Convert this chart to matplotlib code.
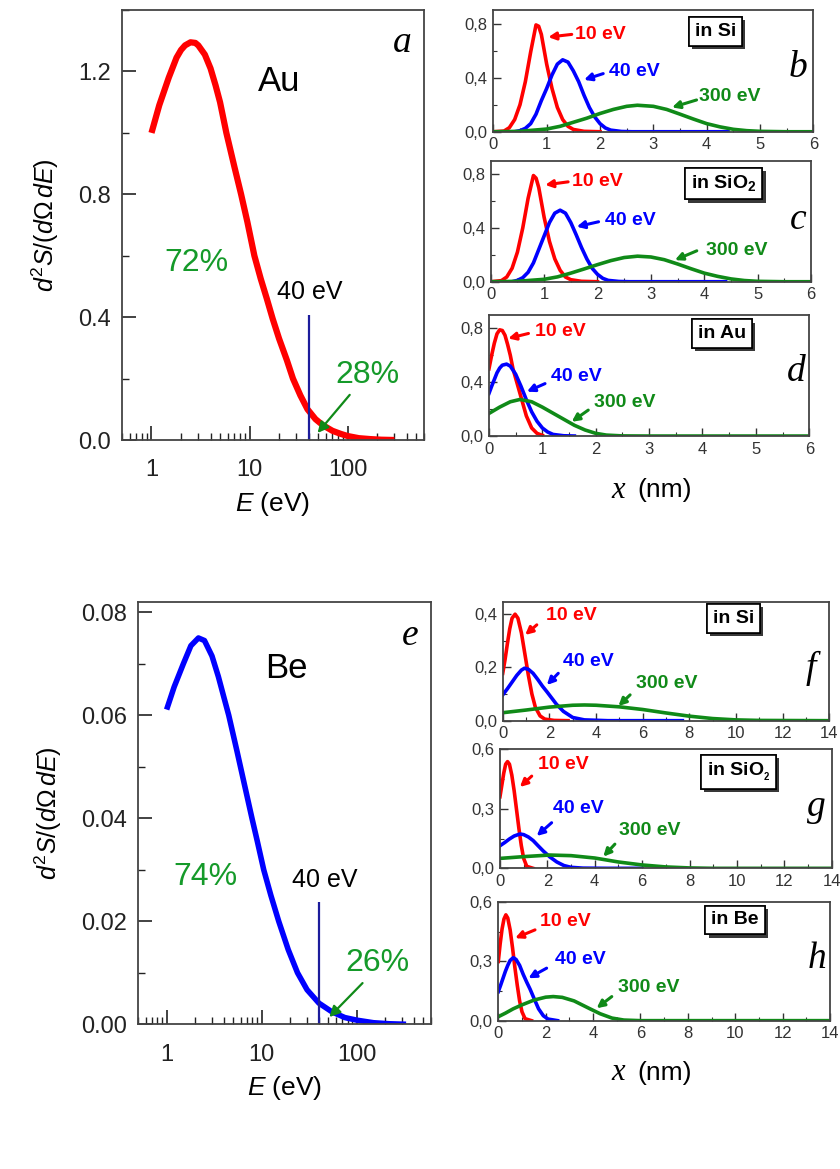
import matplotlib
matplotlib.use('Agg')
import matplotlib.pyplot as plt
import matplotlib.patheffects as pe
from matplotlib.ticker import MultipleLocator, FixedLocator, FuncFormatter, NullFormatter

plt.rcParams['font.family'] = ['Liberation Sans', 'DejaVu Sans']
plt.rcParams['mathtext.fontset'] = 'custom'
plt.rcParams['mathtext.rm'] = 'Liberation Sans'
plt.rcParams['mathtext.it'] = 'Liberation Sans:italic'
plt.rcParams['mathtext.bf'] = 'Liberation Sans:bold'

RED = '#ff0000'
BLUE = '#0000ff'
GREEN = '#108a18'
TXT_GREEN = '#159a2a'

# energy spectra of secondary electrons (left panels)
au_E = [1, 1.2, 1.5, 1.8, 2.0, 2.2, 2.5, 2.8, 3.0, 3.5, 4.0, 4.5, 5, 5.8, 7, 8.2, 9.5, 11.2,
        13, 15, 17.2, 20, 24, 27.7, 33, 39, 47, 56, 70, 85, 100, 130, 170, 220, 300]
au_S = [1.0, 1.09, 1.18, 1.245, 1.27, 1.285, 1.295, 1.293, 1.285, 1.255, 1.21, 1.155, 1.10, 1.0,
        0.89, 0.8, 0.71, 0.6, 0.525, 0.46, 0.395, 0.33, 0.26, 0.2, 0.145, 0.1, 0.068, 0.048, 0.03,
        0.02, 0.013, 0.006, 0.003, 0.001, 0.0]
be_E = [1, 1.2, 1.5, 1.8, 2.16, 2.5, 3, 3.5, 4, 4.5, 5.5, 6.5, 7.9, 9, 10.5, 12.5, 15.1, 19,
        23.8, 30, 40, 55, 75, 100, 150, 220, 330]
be_S = [0.0611, 0.0655, 0.070, 0.0735, 0.0750, 0.0745, 0.0715, 0.0675, 0.0635, 0.060, 0.053,
        0.047, 0.040, 0.0355, 0.030, 0.025, 0.020, 0.0145, 0.010, 0.0067, 0.0041, 0.0024,
        0.0013, 0.0008, 0.0003, 0.0001, 0.0]

# depth distributions, Au emitter (b-d)
b_red_x = [0.0, 0.2, 0.3, 0.4, 0.5, 0.6, 0.7, 0.8, 0.85, 0.9, 1.0, 1.1, 1.2, 1.3, 1.4, 1.5, 1.7, 2.0]
b_red_y = [0, 0.005, 0.03, 0.09, 0.2, 0.37, 0.59, 0.79, 0.78, 0.72, 0.5, 0.32, 0.18, 0.09, 0.04, 0.017, 0.003, 0]
b_blue_x = [0.4, 0.5, 0.6, 0.7, 0.8, 0.9, 1.0, 1.1, 1.2, 1.3, 1.4, 1.5, 1.6, 1.7, 1.8, 1.9, 2.0, 2.1, 2.2, 2.4, 2.6, 4.4]
b_blue_y = [0, 0.008, 0.025, 0.06, 0.13, 0.23, 0.32, 0.42, 0.50, 0.532, 0.515, 0.45, 0.37, 0.27, 0.18,
            0.11, 0.06, 0.028, 0.012, 0.002, 0, 0]
b_green_x = [0.0, 0.5, 1.0, 1.25, 1.5, 1.75, 2.0, 2.25, 2.5, 2.7, 3.0, 3.25, 3.5, 3.75, 4.0, 4.25, 4.5, 4.75, 5.0, 5.5, 6.0]
b_green_y = [0, 0.003, 0.02, 0.04, 0.07, 0.1, 0.135, 0.165, 0.188, 0.196, 0.188, 0.165, 0.13, 0.094,
             0.06, 0.036, 0.018, 0.008, 0.003, 0, 0]

c_red_x = [0.0, 0.2, 0.3, 0.4, 0.5, 0.6, 0.7, 0.8, 0.85, 0.9, 1.0, 1.1, 1.2, 1.3, 1.4, 1.5, 1.7, 2.0]
c_red_y = [0, 0.008, 0.035, 0.1, 0.22, 0.4, 0.62, 0.79, 0.77, 0.7, 0.48, 0.3, 0.17, 0.085, 0.035, 0.015, 0.003, 0]
c_blue_x = [0.4, 0.5, 0.6, 0.7, 0.8, 0.9, 1.0, 1.1, 1.2, 1.3, 1.4, 1.5, 1.6, 1.7, 1.8, 1.9, 2.0, 2.1, 2.2, 2.4, 2.6, 4.4]
c_blue_y = [0, 0.01, 0.03, 0.07, 0.14, 0.24, 0.34, 0.44, 0.51, 0.532, 0.51, 0.44, 0.35, 0.255, 0.17,
            0.1, 0.055, 0.025, 0.01, 0.002, 0, 0]
c_green_x = [0.0, 0.5, 1.0, 1.25, 1.5, 1.75, 2.0, 2.25, 2.5, 2.75, 3.0, 3.25, 3.5, 3.75, 4.0, 4.25, 4.5, 4.75, 5.0, 5.5, 6.0]
c_green_y = [0, 0.003, 0.018, 0.036, 0.064, 0.095, 0.127, 0.157, 0.18, 0.19, 0.184, 0.164, 0.132, 0.097,
             0.064, 0.04, 0.021, 0.009, 0.003, 0, 0]

d_red_x = [0, 0.05, 0.1, 0.15, 0.2, 0.25, 0.3, 0.35, 0.4, 0.45, 0.5, 0.55, 0.6, 0.7, 0.8, 0.9, 1.0]
d_red_y = [0.50, 0.60, 0.69, 0.76, 0.79, 0.785, 0.75, 0.68, 0.6, 0.5, 0.43, 0.36, 0.29, 0.15, 0.06, 0.02, 0.005]
d_blue_x = [0, 0.05, 0.1, 0.15, 0.2, 0.25, 0.33, 0.4, 0.5, 0.6, 0.7, 0.8, 0.9, 1.0, 1.1, 1.2, 1.4, 1.6]
d_blue_y = [0.317, 0.37, 0.42, 0.47, 0.505, 0.527, 0.535, 0.52, 0.46, 0.37, 0.27, 0.18, 0.11, 0.06, 0.03,
            0.012, 0.002, 0]
d_green_x = [0, 0.2, 0.4, 0.58, 0.8, 1.0, 1.2, 1.4, 1.6, 1.8, 2.0, 2.2, 2.5, 3.0, 6.0]
d_green_y = [0.168, 0.215, 0.255, 0.272, 0.255, 0.215, 0.17, 0.125, 0.08, 0.045, 0.02, 0.007, 0.001, 0, 0]

# depth distributions, Be emitter (f-h)
f_red_x = [0, 0.1, 0.2, 0.3, 0.4, 0.53, 0.65, 0.8, 0.95, 1.1, 1.25, 1.4, 1.6, 1.8, 2.2, 2.8]
f_red_y = [0.178, 0.23, 0.29, 0.345, 0.385, 0.40, 0.385, 0.33, 0.25, 0.17, 0.1, 0.05, 0.018, 0.006, 0.001, 0]
f_blue_x = [0, 0.2, 0.4, 0.6, 0.8, 0.93, 1.1, 1.3, 1.5, 1.7, 1.9, 2.1, 2.3, 2.6, 3.0, 3.5, 4.5, 7.7]
f_blue_y = [0.097, 0.12, 0.145, 0.17, 0.19, 0.197, 0.193, 0.178, 0.155, 0.13, 0.108, 0.085, 0.062, 0.035,
            0.012, 0.003, 0.0, 0]
f_green_x = [0, 1, 2, 3, 3.5, 4, 5, 6, 7, 8, 9, 10, 11, 14]
f_green_y = [0.030, 0.040, 0.051, 0.058, 0.059, 0.058, 0.052, 0.042, 0.029, 0.017, 0.008, 0.003, 0.001, 0]

g_red_x = [0, 0.08, 0.16, 0.24, 0.32, 0.4, 0.5, 0.6, 0.7, 0.8, 0.9, 1.0, 1.13, 1.4]
g_red_y = [0.361, 0.42, 0.48, 0.525, 0.538, 0.525, 0.47, 0.39, 0.295, 0.2, 0.115, 0.05, 0.01, 0]
g_blue_x = [0, 0.2, 0.4, 0.6, 0.84, 1.0, 1.2, 1.4, 1.6, 1.83, 2.1, 2.4, 2.7, 3.0, 3.5, 4.5, 6]
g_blue_y = [0.114, 0.13, 0.148, 0.163, 0.173, 0.17, 0.158, 0.14, 0.115, 0.087, 0.058, 0.032, 0.014,
            0.005, 0.001, 0, 0]
g_green_x = [0, 1, 2.1, 3, 4, 5, 6, 7, 8, 9, 14]
g_green_y = [0.05, 0.059, 0.067, 0.064, 0.052, 0.032, 0.017, 0.007, 0.002, 0, 0]

h_red_x = [0, 0.08, 0.16, 0.24, 0.32, 0.4, 0.5, 0.6, 0.7, 0.8, 0.9, 1.0, 1.13, 1.4]
h_red_y = [0.30, 0.39, 0.465, 0.515, 0.536, 0.52, 0.46, 0.37, 0.27, 0.18, 0.1, 0.045, 0.01, 0]
h_blue_x = [0, 0.1, 0.2, 0.3, 0.4, 0.5, 0.63, 0.75, 0.9, 1.05, 1.2, 1.34, 1.5, 1.7, 1.9, 2.1, 2.5]
h_blue_y = [0.147, 0.18, 0.215, 0.25, 0.28, 0.305, 0.319, 0.31, 0.28, 0.235, 0.195, 0.16, 0.115, 0.06,
            0.025, 0.008, 0]
h_green_x = [0, 0.3, 0.63, 1.0, 1.5, 2.0, 2.32, 2.7, 3.2, 3.87, 4.3, 4.8, 5.3, 6, 14]
h_green_y = [0.02, 0.038, 0.06, 0.08, 0.104, 0.119, 0.122, 0.118, 0.1, 0.06, 0.035, 0.013, 0.003, 0, 0]

energy_labels = ['10 eV', '40 eV', '300 eV']

fig = plt.figure(figsize=(8.4, 11.69), dpi=100)


def style_frame(ax):
    for s in ax.spines.values():
        s.set_color('#444444')
        s.set_linewidth(1.3)


def comma(v, pos):
    return ('%.1f' % v).replace('.', ',')


def energy_panel(rect, E, S, color, lw, ylim, ymaj, ymin, yfmt, texts):
    ax = fig.add_axes(rect)
    ax.plot(E, S, color=color, lw=lw, solid_capstyle='butt', solid_joinstyle='round')
    ax.set_xscale('log')
    ax.set_xlim(0.5, 600)
    ax.set_ylim(*ylim)
    ax.yaxis.set_major_locator(MultipleLocator(ymaj))
    ax.yaxis.set_minor_locator(MultipleLocator(ymin))
    ax.yaxis.set_major_formatter(FuncFormatter(lambda v, p: yfmt % v))
    ax.xaxis.set_major_locator(FixedLocator([1, 10, 100]))
    ax.xaxis.set_major_formatter(FuncFormatter(lambda v, p: '%d' % v))
    minors = [m * 10.0 ** k for k in range(-1, 3) for m in range(2, 10)]
    ax.xaxis.set_minor_locator(FixedLocator([m for m in minors if 0.5 <= m <= 600]))
    ax.xaxis.set_minor_formatter(NullFormatter())
    ax.tick_params(which='both', direction='in', top=False, right=False, labelsize=17,
                   colors='#222222')
    ax.tick_params(axis='y', pad=8)
    ax.tick_params(axis='x', pad=14)
    ax.tick_params(which='major', length=10, width=1.2)
    ax.tick_params(which='minor', length=5, width=1.0)
    style_frame(ax)
    ax.set_xlabel('$E$ (eV)', fontsize=19, labelpad=6)
    ax.set_ylabel(r'$d^2S/(d\Omega\,dE)$', fontsize=18, labelpad=12)
    name, letter, left_pct, right_pct, vtop, pos = texts
    ax.vlines(40, 0, vtop, color='#1c1c9c', lw=1.6)
    ax.text(pos['name'][0], pos['name'][1], name, fontsize=25, ha='center', va='center')
    ax.text(pos['letter'][0], pos['letter'][1], letter, fontsize=27, ha='center', va='center',
            family='Liberation Serif', style='italic')
    ax.text(pos['left'][0], pos['left'][1], left_pct, fontsize=23, color=TXT_GREEN,
            ha='center', va='center')
    ax.text(pos['ev'][0], pos['ev'][1], '40 eV', fontsize=18, ha='center', va='center')
    ax.text(pos['right'][0], pos['right'][1], right_pct, fontsize=23, color=TXT_GREEN,
            ha='center', va='center')
    ax.annotate('', xy=pos['tip'], xytext=pos['tail'],
                arrowprops=dict(arrowstyle='-|>', color=GREEN, lw=1.6, mutation_scale=16,
                                shrinkA=0, shrinkB=0))
    return ax


def depth_panel(rect, curves, xmax, xmaj, ylim, ymaj, box, letter, lab):
    ax = fig.add_axes(rect)
    for (x, y), c in zip(curves, [RED, BLUE, GREEN]):
        ax.plot(x, y, color=c, lw=2.6, solid_joinstyle='round')
    ax.set_xlim(0, xmax)
    ax.set_ylim(*ylim)
    ax.xaxis.set_major_locator(MultipleLocator(xmaj))
    ax.xaxis.set_minor_locator(MultipleLocator(xmaj / 2))
    ax.yaxis.set_major_locator(MultipleLocator(ymaj))
    ax.yaxis.set_minor_locator(MultipleLocator(ymaj / 2))
    ax.yaxis.set_major_formatter(FuncFormatter(comma))
    ax.tick_params(which='both', direction='in', top=False, right=False, labelsize=12,
                   colors='#333333', pad=4)
    ax.tick_params(which='major', length=6, width=1.0)
    ax.tick_params(which='minor', length=3, width=0.8)
    style_frame(ax)
    for txt, c, (tx, ty), tail, tip in zip(energy_labels, [RED, BLUE, GREEN], lab['txt'],
                                           lab['tail'], lab['tip']):
        ax.text(tx, ty, txt, color=c, fontsize=14, fontweight='bold', ha='center', va='center')
        ax.annotate('', xy=tip, xytext=tail,
                    arrowprops=dict(arrowstyle='-|>', color=c, lw=2.2, mutation_scale=11,
                                    shrinkA=0, shrinkB=0))
    t = ax.text(box[0], box[1], box[2], fontsize=14, fontweight='bold', ha='center', va='center',
                bbox=dict(boxstyle='square,pad=0.3', fc='white', ec='black', lw=1.2))
    t.get_bbox_patch().set_path_effects([
        pe.withSimplePatchShadow(offset=(2.5, -2.5), shadow_rgbFace='#222222', alpha=0.9),
        pe.Normal()])
    ax.text(letter[0], letter[1], letter[2], fontsize=27, ha='center', va='center',
            family='Liberation Serif', style='italic')
    return ax


# left panels
energy_panel([0.1452, 0.6236, 0.3595, 0.3678], au_E, au_S, RED, 4.5, (0, 1.4), 0.4, 0.2, '%.1f',
             ('Au', 'a', '72%', '28%', 0.407,
              {'name': (20.2, 1.167), 'letter': (364, 1.294), 'left': (2.88, 0.577),
               'ev': (40.9, 0.483), 'right': (160, 0.212), 'tail': (105, 0.147),
               'tip': (49.4, 0.023)}))
energy_panel([0.1643, 0.1238, 0.3485, 0.3613], be_E, be_S, BLUE, 4.0, (0, 0.082), 0.02, 0.01,
             '%.2f',
             ('Be', 'e', '74%', '26%', 0.0238,
              {'name': (18.0, 0.0691), 'letter': (361, 0.0755), 'left': (2.57, 0.0286),
               'ev': (45.5, 0.028), 'right': (166, 0.0119), 'tail': (115, 0.008),
               'tip': (51.4, 0.0014)}))

# right panels, top group
depth_panel([0.5873, 0.8873, 0.381, 0.1041],
            [(b_red_x, b_red_y), (b_blue_x, b_blue_y), (b_green_x, b_green_y)],
            6, 1, (0, 0.9), 0.4, (4.16, 0.743, 'in Si'), (5.71, 0.473, 'b'),
            {'txt': [(2.0, 0.72), (2.65, 0.446), (4.44, 0.26)],
             'tail': [(1.47, 0.72), (2.06, 0.43), (3.81, 0.235)],
             'tip': [(1.03, 0.70), (1.70, 0.384), (3.35, 0.18)]})
depth_panel([0.5842, 0.759, 0.3813, 0.1035],
            [(c_red_x, c_red_y), (c_blue_x, c_blue_y), (c_green_x, c_green_y)],
            6, 1, (0, 0.9), 0.4, (4.36, 0.731, r'in SiO$_\mathbf{2}$'), (5.76, 0.458, 'c'),
            {'txt': [(1.99, 0.743), (2.61, 0.453), (4.61, 0.23)],
             'tail': [(1.45, 0.743), (2.02, 0.446), (3.86, 0.23)],
             'tip': [(1.02, 0.72), (1.61, 0.409), (3.45, 0.161)]})
depth_panel([0.5821, 0.627, 0.3813, 0.1035],
            [(d_red_x, d_red_y), (d_blue_x, d_blue_y), (d_green_x, d_green_y)],
            6, 1, (0, 0.9), 0.4, (4.36, 0.763, 'in Au'), (5.76, 0.478, 'd'),
            {'txt': [(1.33, 0.775), (1.64, 0.446), (2.55, 0.248)],
             'tail': [(0.74, 0.763), (1.05, 0.39), (1.86, 0.193)],
             'tip': [(0.36, 0.726), (0.71, 0.33), (1.55, 0.106)]})

# right panels, bottom group
depth_panel([0.5985, 0.3835, 0.3888, 0.1018],
            [(f_red_x, f_red_y), (f_blue_x, f_blue_y), (f_green_x, f_green_y)],
            14, 2, (0, 0.447), 0.2, (9.88, 0.385, 'in Si'), (13.2, 0.197, 'f'),
            {'txt': [(2.96, 0.394), (3.67, 0.222), (7.03, 0.138)],
             'tail': [(1.46, 0.36), (2.38, 0.178), (5.46, 0.097)],
             'tip': [(0.96, 0.322), (1.89, 0.134), (4.96, 0.055)]})
depth_panel([0.5952, 0.2572, 0.3949, 0.1018],
            [(g_red_x, g_red_y), (g_blue_x, g_blue_y), (g_green_x, g_green_y)],
            14, 2, (0, 0.6), 0.3, (10.06, 0.487, r'in SiO$_\mathbf{_2}$'), (13.37, 0.31, 'g'),
            {'txt': [(2.67, 0.521), (3.31, 0.30), (6.33, 0.19)],
             'tail': [(1.34, 0.465), (2.18, 0.23), (4.85, 0.122)],
             'tip': [(0.84, 0.41), (1.55, 0.163), (4.36, 0.059)]})
depth_panel([0.5932, 0.1269, 0.3949, 0.1013],
            [(h_red_x, h_red_y), (h_blue_x, h_blue_y), (h_green_x, h_green_y)],
            14, 2, (0, 0.6), 0.3, (9.99, 0.51, 'in Be'), (13.44, 0.316, 'h'),
            {'txt': [(2.82, 0.502), (3.45, 0.308), (6.33, 0.169)],
             'tail': [(1.55, 0.46), (2.04, 0.266), (4.79, 0.122)],
             'tip': [(0.71, 0.418), (1.27, 0.215), (4.15, 0.063)]})

# x (nm) axis titles under the right columns
for ypx in [490, 1073]:
    yf = 1 - ypx / 1169
    fig.text(618 / 840, yf, 'x', fontsize=22, family='Liberation Serif', style='italic',
             ha='center', va='center')
    fig.text(665 / 840, yf, '(nm)', fontsize=19, ha='center', va='center')

plt.savefig('out.png', dpi=100)
